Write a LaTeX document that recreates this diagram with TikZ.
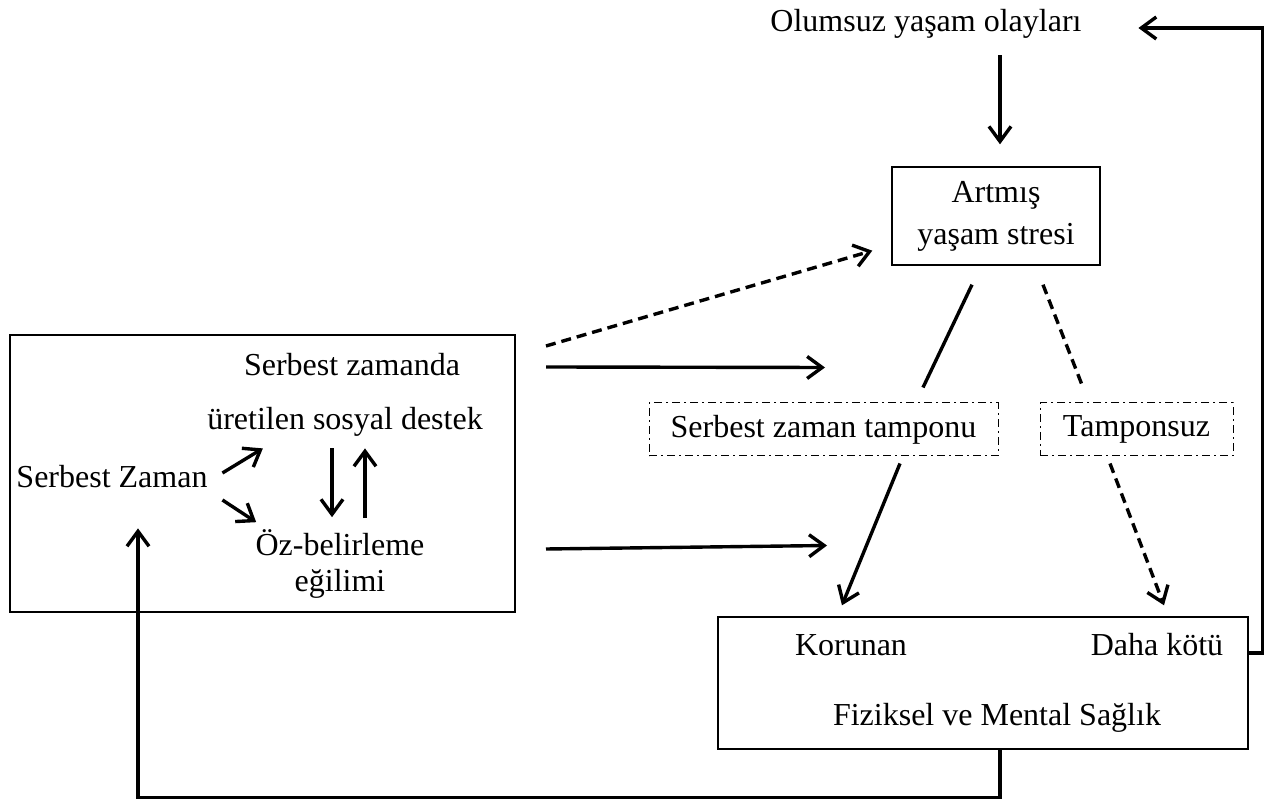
\documentclass[tikz,border=0pt]{standalone}
\usepackage{fontspec}
\setmainfont{Liberation Serif}
\usetikzlibrary{arrows.meta}
\begin{document}
\begin{tikzpicture}[x=0.5pt,y=-0.5pt,
  every node/.style={font=\fontsize{16}{21}\selectfont},
  >={Straight Barb[length=7.5pt,width=11pt]},
  ok/.style={->,line width=1.7pt},
  kesik/.style={dash pattern=on 5pt off 3pt},
  yazi/.style={inner sep=0pt,text height=11pt,text depth=3.5pt},
  kutu/.style={draw,line width=0.7pt},
  tampon kutu/.style={draw,line width=0.5pt,dash pattern=on 4pt off 2pt on 1pt off 2pt,minimum height=26.5pt}]
\useasboundingbox (0,0) rectangle (1270,806);
\node[yazi] (olay) at (926,24) {Olumsuz yaşam olayları};
\node[kutu,align=center,minimum width=104pt,minimum height=49pt] (stres) at (996,216) {Artmış\\yaşam stresi};
\node[draw,line width=1pt,minimum width=252.5pt,minimum height=138.5pt] (sol) at (262.5,473.5) {};
\node[yazi] (serbest) at (112,480) {Serbest Zaman};
\node[yazi] (zamanda) at (352,368) {Serbest zamanda};
\node[yazi] (destek) at (345,422) {üretilen sosyal destek};
\node[inner sep=0pt,align=center,font=\fontsize{16}{18}\selectfont] (ozb) at (340,564) {Öz-belirleme\\eğilimi};
\node[tampon kutu,minimum width=174.5pt] (tampon) at (823.5,429.5) {Serbest zaman tamponu};
\node[tampon kutu,minimum width=96.5pt] (tamponsuz) at (1136.5,429.5) {Tamponsuz};
\node[kutu,minimum width=265pt,minimum height=66pt] (saglik) at (983,683) {};
\node[yazi] (korunan) at (851,648) {Korunan};
\node[yazi] (kotu) at (1157,648) {Daha kötü};
\node[yazi] (fiziksel) at (997,718) {Fiziksel ve Mental Sağlık};
% sol kutu ici
\draw[ok] ([xshift=7.25pt,yshift=3.5pt]serbest.east) -- ([xshift=28pt,yshift=-5.75pt]destek.south west);
\draw[ok] ([xshift=7.25pt,yshift=-10pt]serbest.east) -- ([xshift=0.5pt,yshift=3.5pt]ozb.north west);
\draw[ok] ([xshift=-6.5pt,yshift=-5.75pt]destek.south) -- ([xshift=-4pt,yshift=6pt]ozb.north);
\draw[ok] ([xshift=12.5pt,yshift=5.5pt]ozb.north) -- ([xshift=10pt,yshift=-5.75pt]destek.south);
% sol kutudan saga
\draw[ok,kesik] ([xshift=15pt,yshift=-6pt]sol.north east) -- ([xshift=-9.5pt,yshift=7.5pt]stres.south west);
\draw[ok] ([xshift=15pt,yshift=-16.5pt]sol.north east) -- ([xshift=0.75pt,yshift=17.5pt]tampon.north);
\draw[ok] ([xshift=15pt,yshift=32pt]sol.south east) -- ([xshift=1.75pt,yshift=-44.5pt]tampon.south);
% stres
\draw[ok] ([xshift=37pt,yshift=-8.25pt]olay.south) -- ([xshift=2pt,yshift=11pt]stres.north);
\draw[line width=1.7pt] ([xshift=-12pt,yshift=-9.5pt]stres.south) -- ([xshift=49.75pt,yshift=7.5pt]tampon.north);
\draw[line width=1.7pt,kesik] ([xshift=23.5pt,yshift=-9.5pt]stres.south) -- ([xshift=-26.75pt,yshift=7.5pt]tamponsuz.north);
\draw[ok] ([xshift=38.25pt,yshift=-3.5pt]tampon.south) -- ([xshift=-70.5pt,yshift=5.5pt]saglik.north);
\draw[ok,kesik] ([xshift=-13.25pt,yshift=-3.5pt]tamponsuz.south) -- ([xshift=90.5pt,yshift=5.5pt]saglik.north);
% geri donusler
\draw[ok] ([yshift=15pt]saglik.east) -- ++(7pt,0) |- ([xshift=28.25pt,yshift=-2pt]olay.east);
\draw[ok] ([xshift=8.5pt]saglik.south) -- ++(0,-24pt) -| ([xshift=13pt,yshift=-16.75pt]serbest.south);
\end{tikzpicture}
\end{document}
